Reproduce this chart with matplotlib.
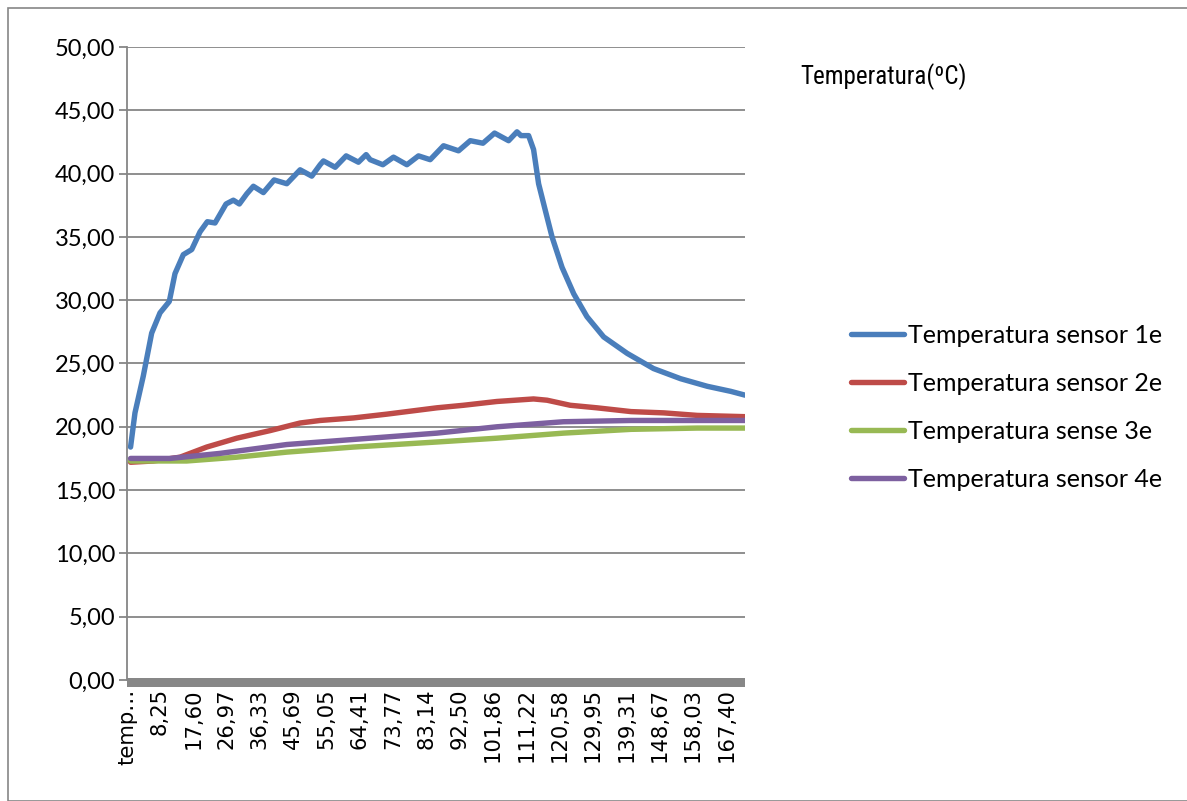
import matplotlib
matplotlib.use("Agg")
import matplotlib.pyplot as plt
from matplotlib.patches import Rectangle

# ---------------- data ----------------
tick_labels = ['temp…', '8,25', '17,60', '26,97', '36,33', '45,69', '55,05', '64,41',
               '73,77', '83,14', '92,50', '101,86', '111,22', '120,58', '129,95',
               '139,31', '148,67', '158,03', '167,40']

s1_t = [0, 1.24, 3.57, 5.93, 8.27, 10.88, 12.48, 14.82, 17.18, 19.51, 21.56, 23.73,
        26.82, 28.87, 30.56, 32.64, 34.50, 37.31, 40.32, 43.89, 47.63, 50.91, 53.25,
        54.18, 57.48, 60.56, 64.01, 66.18, 67.30, 70.87, 73.86, 77.62, 80.88, 84.17,
        87.91, 92.13, 95.42, 98.99, 102.25, 106.19, 108.55, 109.67, 111.81, 113.21,
        114.62, 116.5, 118.4, 121.2, 124.5, 128.2, 132.9, 139.5, 146.9,
        154.5, 162.0, 168.6, 172.6]
s1_v = [18.4, 21.1, 24.0, 27.4, 29.0, 29.9, 32.1, 33.6, 34.0, 35.4, 36.2, 36.1,
        37.6, 37.9, 37.6, 38.4, 39.0, 38.5, 39.5, 39.2, 40.3, 39.8, 40.7,
        41.0, 40.5, 41.4, 40.9, 41.5, 41.1, 40.7, 41.3, 40.7, 41.4, 41.1,
        42.2, 41.8, 42.6, 42.4, 43.2, 42.6, 43.3, 43.0, 43.0, 41.9,
        39.2, 37.1, 35.0, 32.6, 30.5, 28.7, 27.1, 25.8, 24.6,
        23.8, 23.2, 22.8, 22.5]

s2_t = [0, 6.38, 13.89, 21.39, 29.83, 39.19, 47.63, 53.25, 62.61, 72.0, 86.06, 93.5,
        102.9, 113.2, 117.0, 123.5, 131.0, 140.6, 149.8, 159.2, 172.6]
s2_v = [17.2, 17.3, 17.6, 18.4, 19.1, 19.7, 20.3, 20.5, 20.7, 21.0, 21.5, 21.7,
        22.0, 22.2, 22.1, 21.7, 21.5, 21.2, 21.1, 20.9, 20.8]

s3_t = [0, 15.77, 29.83, 43.89, 62.61, 86.06, 102.9, 121.6, 140.6, 159.2, 172.6]
s3_v = [17.3, 17.3, 17.6, 18.0, 18.4, 18.8, 19.1, 19.5, 19.8, 19.9, 19.9]

s4_t = [0, 11.08, 25.13, 43.89, 62.61, 86.06, 102.9, 121.6, 140.6, 172.6]
s4_v = [17.5, 17.5, 17.9, 18.6, 19.0, 19.5, 20.0, 20.4, 20.5, 20.5]

series_names = ['Temperatura sensor 1e', 'Temperatura sensor 2e',
                'Temperatura sense 3e', 'Temperatura sensor 4e']
series_colors = ['#4a7ebb', '#be4b48', '#98b954', '#7d60a0']
title_text = 'Temperatura(ºC)'
y_ticks = [0, 5, 10, 15, 20, 25, 30, 35, 40, 45, 50]

# ---------------- figure ----------------
W, H = 1187, 801
fig = plt.figure(figsize=(W / 100, H / 100), dpi=100)
fig.patch.set_facecolor('white')

# chart-area border
fig.add_artist(Rectangle((8 / W, 0), 1.2, 1 - 8 / H, transform=fig.transFigure,
                         fill=False, edgecolor='#868686', linewidth=1.2))

ax = fig.add_axes([127 / W, 1 - 680 / H, (745 - 127) / W, (680 - 47) / H])
grid_c = '#868686'

tick_pos = [-1.0] + [float(l.replace(',', '.')) for l in tick_labels[1:]]

lines = []
for (t, v), name, c in zip([(s1_t, s1_v), (s2_t, s2_v), (s3_t, s3_v), (s4_t, s4_v)],
                           series_names, series_colors):
    ln, = ax.plot(t, v, color=c, lw=3.9, label=name, solid_joinstyle='round',
                  solid_capstyle='round', zorder=3)
    lines.append(ln)

ax.set_xlim(-1.0, 172.6)
ax.set_ylim(0, 50)
ax.set_yticks(y_ticks)
ax.set_yticklabels([f'{v:.2f}'.replace('.', ',') for v in y_ticks],
                   fontsize=17, family=['Lato', 'DejaVu Sans'])
ax.yaxis.grid(True, color=grid_c, lw=1.3, zorder=1)
ax.set_axisbelow(True)
ax.tick_params(axis='y', length=6, width=1.3, color=grid_c, pad=2.5)

ax.set_xticks(tick_pos)
ax.set_xticklabels(tick_labels, rotation=90, fontsize=15.2, family='DejaVu Sans',
                   va='top', ha='center')
ax.tick_params(axis='x', length=0, pad=6)

for s in ['top', 'right', 'bottom']:
    ax.spines[s].set_visible(False)
ax.spines['left'].set_color(grid_c)
ax.spines['left'].set_linewidth(1.3)
ax.spines['left'].set_bounds(0, 50)

# thick tick-mark band under the category axis
ax.add_patch(Rectangle((-1.0, -7 / 633), 173.6, 9 / 633, transform=ax.get_xaxis_transform(),
                       facecolor='#878787', edgecolor='none', clip_on=False, zorder=2))

# title
fig.text(884 / W, 1 - 77 / H, title_text, ha='center', va='center', fontsize=18,
         family=['Roboto Condensed', 'Roboto', 'DejaVu Sans'])

# legend
leg = fig.legend(handles=lines, labels=series_names, loc='upper left',
                 bbox_to_anchor=(851 / W, 1 - 324 / H), frameon=False,
                 prop={'family': ['Lato', 'DejaVu Sans'], 'size': 18},
                 handlelength=2.1, handletextpad=0.2, labelspacing=1.0,
                 borderaxespad=0, borderpad=0)

fig.savefig('out.png', dpi=100, facecolor='white')
